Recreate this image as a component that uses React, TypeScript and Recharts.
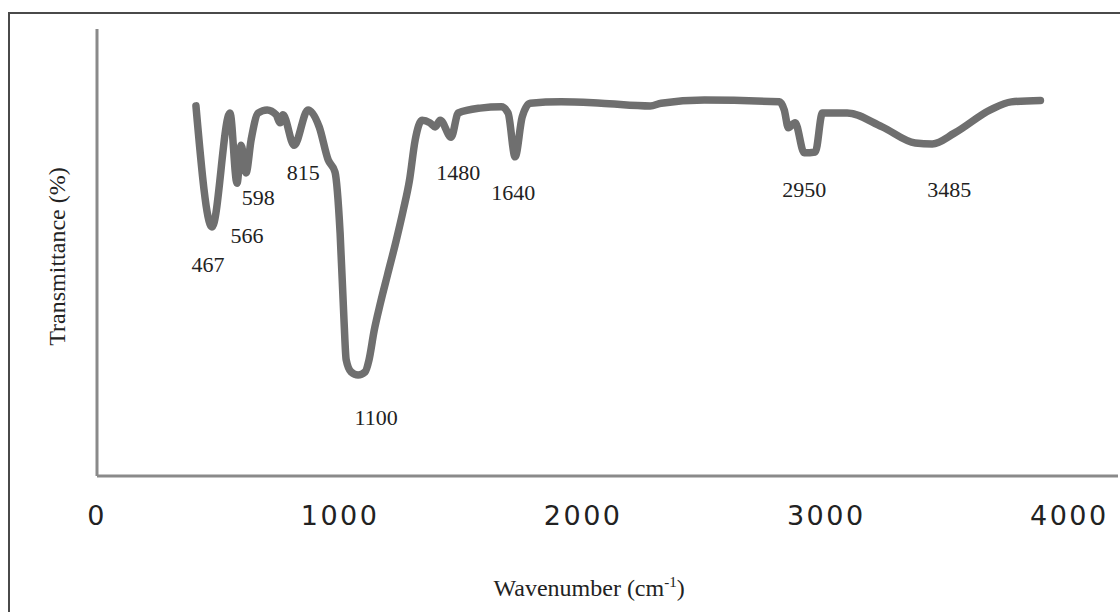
import React from 'react';
import { ComposedChart, Line, Scatter, XAxis, YAxis } from 'recharts';

// FTIR spectrum: wavenumber (cm-1) and transmittance (%)
const wavenumbers = [
  407, 473, 547, 576, 593, 613, 634, 663, 700, 737, 753, 765, 811, 868, 914, 951, 979,
  1000, 1016, 1025, 1045, 1074, 1103, 1119, 1140, 1165, 1195, 1230, 1260, 1285, 1309, 1337,
  1370, 1391, 1412, 1457, 1486, 1576, 1663, 1691, 1720, 1749, 1782, 1909, 2074, 2276,
  2321, 2498, 2807, 2827, 2844, 2872, 2909, 2955, 2984, 3086, 3230, 3366, 3436, 3527,
  3675, 3761, 3881,
];
const transmittance = [
  82.8, 55.7, 81.2, 65.5, 74.0, 67.8, 75.2, 81.2, 81.9, 80.8, 79.0, 80.8, 74.0, 81.9, 78.1,
  70.7, 68.0, 54.4, 34.9, 26.0, 23.3, 22.6, 23.3, 26.0, 32.5, 38.5, 45.0, 52.5, 59.5, 66.0, 75.2,
  79.6, 79.0, 78.1, 79.6, 75.8, 81.2, 82.3, 82.6, 81.2, 71.4, 80.3, 83.4, 83.7, 83.4, 82.8,
  83.4, 84.1, 83.7, 81.9, 77.9, 79.0, 72.3, 72.5, 81.2, 81.2, 78.1, 74.5, 74.3, 76.7, 81.9,
  83.7, 84.0,
];

// Peak annotations (text, and where each label sits in data units)
const peakLabels = ['467', '566', '598', '815', '1100', '1480', '1640', '2950', '3485'];
const peakLabelX = [457, 617, 663, 848, 1148, 1486, 1712, 2909, 3506];
const peakLabelY = [47.4, 53.9, 62.2, 68.0, 13.0, 68.0, 63.5, 64.0, 64.0];

const xTicks = [0, 1000, 2000, 3000, 4000];

const spectrum = wavenumbers.map((x, i) => ({ x, t: transmittance[i] }));
const peaks = peakLabels.map((label, i) => ({ x: peakLabelX[i], t: peakLabelY[i], label }));

const SERIF = '"Liberation Serif", "Times New Roman", serif';
const SANS = '"DejaVu Sans", Verdana, sans-serif';

const PeakText = (props: any) => {
  const { cx, cy, payload } = props;
  if (cx == null || cy == null) return null;
  return (
    <text
      x={cx}
      y={cy}
      textAnchor="middle"
      dominantBaseline="central"
      fontFamily={SERIF}
      fontSize={22}
      fill="#222"
    >
      {payload.label}
    </text>
  );
};

const XTitle = (props: any) => {
  const vb = props.viewBox || {};
  return (
    <text
      x={vb.x + vb.width * 0.482}
      y={vb.y + 120}
      textAnchor="middle"
      fontFamily={SERIF}
      fontSize={24}
      fill="#222"
    >
      Wavenumber (cm
      <tspan dy={-9} fontSize={15}>-1</tspan>
      <tspan dy={9}>)</tspan>
    </text>
  );
};

const YTitle = (props: any) => {
  const vb = props.viewBox || {};
  const x = vb.x + vb.width - 32;
  const y = vb.y + vb.height / 2 + 4;
  return (
    <text
      x={x}
      y={y}
      transform={`rotate(-90, ${x}, ${y})`}
      textAnchor="middle"
      fontFamily={SERIF}
      fontSize={24}
      fill="#222"
    >
      Transmittance (%)
    </text>
  );
};

export default function App() {
  return (
    <div
      style={{
        position: 'fixed',
        left: 0,
        top: 0,
        width: 1120,
        height: 612,
        overflow: 'hidden',
        background: '#fff',
      }}
    >
      <div
        style={{
          position: 'absolute',
          left: 8,
          top: 12,
          width: 1300,
          height: 800,
          border: '2px solid #4a4a4a',
        }}
      />
      <div style={{ position: 'absolute', left: 0, top: 0 }}>
        <ComposedChart
          width={1120}
          height={612}
          margin={{ top: 29, right: 2, bottom: 36, left: 0 }}
        >
          <XAxis
            dataKey="x"
            type="number"
            domain={[0, 4200]}
            ticks={xTicks}
            allowDataOverflow
            height={100}
            tickLine={false}
            tickSize={0}
            tickMargin={30}
            axisLine={{ stroke: '#8a8a8a', strokeWidth: 3 }}
            tick={{ fontFamily: SANS, fontSize: 27, fill: '#222', letterSpacing: 2.5 }}
            label={<XTitle />}
          />
          <YAxis
            type="number"
            domain={[0, 100]}
            width={97}
            tick={false}
            tickLine={false}
            axisLine={{ stroke: '#8a8a8a', strokeWidth: 3 }}
            label={<YTitle />}
          />
          <Line
            data={spectrum}
            dataKey="t"
            type="monotone"
            stroke="#6f6f6f"
            strokeWidth={7.5}
            strokeLinejoin="round"
            strokeLinecap="round"
            dot={false}
            activeDot={false}
            isAnimationActive={false}
          />
          <Scatter
            data={peaks}
            dataKey="t"
            shape={<PeakText />}
            isAnimationActive={false}
          />
        </ComposedChart>
      </div>
    </div>
  );
}
